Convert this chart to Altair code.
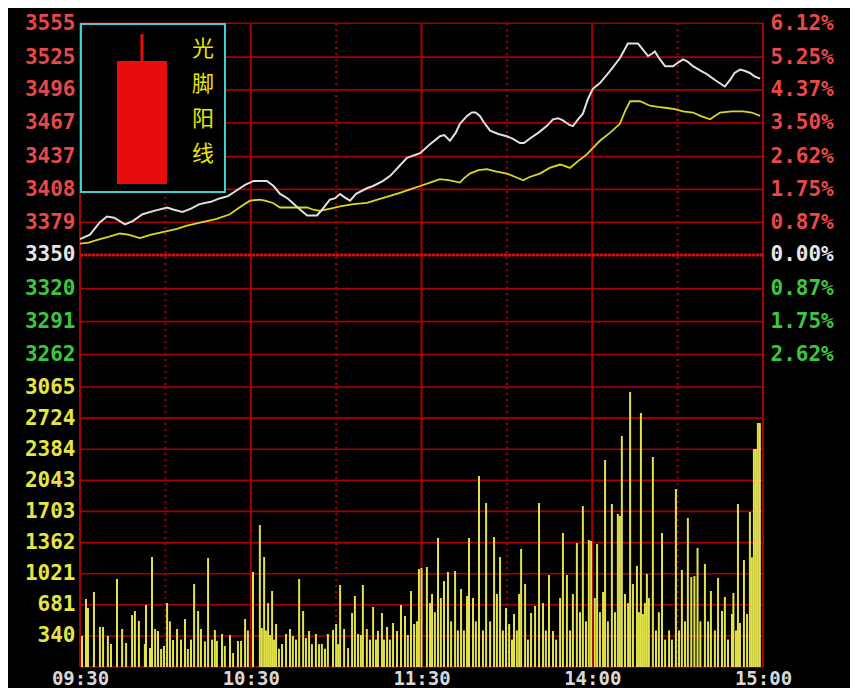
import altair as alt
import pandas as pd

# ---------------- axis ticks / labels ----------------
price_ticks = [3555, 3525, 3496, 3467, 3437, 3408, 3379, 3350, 3320, 3291, 3262]
pct_labels = ["6.12%", "5.25%", "4.37%", "3.50%", "2.62%", "1.75%", "0.87%",
              "0.00%", "0.87%", "1.75%", "2.62%"]
prev_close = 3350
price_domain = [3233.2, 3555.2]
vol_ticks = [340, 681, 1021, 1362, 1703, 2043, 2384, 2724, 3065]
vol_domain = [0, 3065]
time_ticks = [0, 60, 120, 180, 240]
time_labels = ["09:30", "10:30", "11:30", "14:00", "15:00"]
half_hours = [30, 90, 150, 210]
legend_text = "光\n脚\n阳\n线"

# ---------------- price lines (minutes since open, index level) ----------------
white_t = [0, 3.5, 7, 9.5, 12, 15.8, 18.5, 22, 26, 30.6, 33, 36, 39, 42, 46, 49, 52, 55, 58, 61,
           65.7, 68, 70.3, 73, 76, 79.8, 83.3, 85, 87.8, 89.5, 91.4, 93, 94.9, 97, 100.8, 103,
           106.5, 109, 112, 114.9, 119.5, 123, 126.5, 128, 130, 132, 133.5, 136, 137.7, 139,
           140.5, 142, 144.1, 147, 150, 152, 154.6, 156, 158.1, 161, 164, 166.2, 168, 169.7,
           172, 173.2, 175, 176.7, 178.5, 180.2, 182.7, 186, 189.7, 191, 192.5, 196.1, 198,
           199.6, 201, 202, 203.5, 205.6, 208.4, 210, 211.9, 213.5, 215.4, 218, 220.3, 223,
           226.6, 228.5, 230, 231.9, 233.5, 235.4, 237, 239]
white_p = [3364, 3368, 3379, 3384, 3383, 3377, 3380, 3386, 3389, 3392, 3390, 3388, 3391, 3395,
           3397, 3400, 3402, 3407, 3412, 3415.5, 3415.5, 3411, 3404, 3400, 3393, 3385, 3385, 3390,
           3399, 3400, 3404, 3401, 3398, 3404, 3409, 3411, 3415.5, 3420, 3428, 3436, 3440, 3448,
           3455, 3456, 3451, 3458, 3466, 3473, 3476, 3476, 3473, 3467, 3460, 3457, 3455, 3453,
           3449, 3449, 3453, 3458, 3464, 3470, 3471, 3469, 3465, 3464, 3470, 3475, 3488, 3497,
           3502, 3512, 3524, 3530, 3537, 3537, 3531, 3526, 3528, 3530, 3524, 3517, 3517, 3520,
           3523, 3521, 3517, 3513, 3510, 3505, 3499, 3505, 3511, 3514, 3513, 3511, 3508, 3506]

yellow_t = [0, 3, 7, 10, 14, 17, 21, 25, 30.6, 34, 37.6, 41, 44.6, 48, 52.7, 56, 59.7, 63.2, 65,
            67.8, 70.3, 75, 79.8, 82, 84.3, 88, 91.4, 96, 100.8, 106, 112.4, 116, 119.5, 123,
            126.5, 130, 133.5, 135, 137, 140, 143, 146, 150, 153, 155.7, 158, 161.6, 165, 168.7,
            170, 172.2, 175, 178.1, 180, 182.7, 186.2, 189.7, 191.5, 193.3, 196.8, 200.3, 203,
            206.3, 209, 211.9, 215.4, 218, 221.4, 224.9, 229, 233, 236, 239]
yellow_p = [3360, 3361, 3364, 3366, 3369, 3368, 3365, 3368, 3371, 3373, 3376, 3378, 3380, 3382,
            3386, 3392, 3398, 3399, 3398, 3396, 3392, 3392, 3392, 3390, 3389, 3391, 3393, 3395,
            3396, 3400, 3405, 3408, 3411, 3414, 3417, 3416, 3414, 3418, 3422, 3425, 3426, 3424,
            3422, 3419, 3416, 3419, 3422, 3427, 3430, 3429, 3427, 3433, 3439, 3444, 3451, 3458,
            3466, 3477, 3486, 3486, 3482, 3481, 3480, 3479, 3477, 3476, 3473, 3470, 3476, 3477,
            3477, 3476, 3473]

# ---------------- volume bars ----------------
vol_time = [
    0.7, 2.1, 2.8, 4.9, 7.0, 8.1, 9.8, 10.9, 13.0, 14.8,
    16.2, 18.3, 19.3, 20.7, 22.8, 23.2, 24.6, 25.3, 26.4, 27.4,
    28.5, 29.5, 30.6, 31.6, 32.7, 34.1, 35.5, 36.9, 37.9, 39.0,
    40.1, 41.5, 42.5, 43.9, 45.0, 46.4, 47.4, 48.1, 49.9, 50.9,
    52.7, 53.8, 55.5, 56.6, 58.0, 59.0, 60.8, 63.2, 63.9, 64.7,
    65.4, 66.1, 66.8, 67.5, 68.2, 68.9, 69.9, 71.0, 72.4, 73.8,
    74.8, 75.9, 77.0, 78.4, 79.4, 80.5, 81.5, 82.9, 84.0, 85.0,
    86.1, 87.1, 88.9, 90.0, 90.7, 91.4, 92.8, 94.2, 95.6, 96.6,
    97.7, 98.7, 99.4, 100.8, 101.9, 103.0, 104.0, 104.7, 106.1, 106.8,
    107.9, 108.9, 110.0, 111.4, 112.8, 114.2, 115.2, 116.3, 117.4, 118.4,
    119.1, 120.0, 121.9, 123.0, 123.7, 124.7, 125.8, 126.8, 127.9, 129.3,
    130.4, 131.8, 132.8, 133.9, 134.9, 136.0, 136.7, 138.1, 139.1, 140.2,
    141.6, 142.7, 144.1, 145.5, 146.5, 147.6, 148.6, 149.7, 150.8, 151.8,
    152.5, 153.5, 154.3, 155.0, 156.4, 157.4, 158.5, 159.9, 161.3, 162.7,
    163.7, 164.8, 166.2, 167.3, 168.7, 169.7, 171.1, 172.2, 173.2, 174.6,
    175.7, 176.7, 177.8, 178.8, 179.6, 180.9, 181.7, 182.7, 183.8, 184.5,
    185.5, 186.9, 188.0, 189.0, 189.7, 190.4, 191.5, 192.6, 193.3, 194.3,
    195.7, 196.4, 197.1, 197.8, 198.5, 199.2, 199.9, 201.3, 202.4, 203.4,
    204.5, 205.6, 207.0, 208.0, 209.4, 210.5, 211.5, 212.6, 213.6, 214.8,
    215.9, 217.0, 218.0, 219.6, 220.7, 221.7, 223.1, 224.2, 225.6, 226.6,
    227.7, 229.1, 229.6, 230.5, 231.2, 231.9, 233.3, 234.4, 235.4, 236.1,
    236.8, 237.5, 238.2, 238.9]
vol_value = [
    340, 744, 646, 821, 438, 438, 340, 252, 963, 416,
    263, 569, 613, 504, 252, 679, 208, 1204, 416, 394,
    197, 230, 700, 500, 296, 416, 300, 525, 197, 300,
    908, 613, 416, 280, 1193, 300, 405, 285, 361, 230,
    350, 153, 285, 285, 525, 400, 1040, 1554, 427, 1204,
    400, 700, 350, 832, 300, 471, 200, 252, 361, 416,
    340, 300, 963, 613, 317, 394, 250, 361, 250, 252,
    200, 361, 405, 471, 250, 898, 416, 208, 591, 777,
    361, 350, 898, 416, 300, 657, 300, 394, 591, 300,
    438, 300, 482, 394, 679, 558, 350, 832, 471, 500,
    1073, 1084, 1095, 700, 799, 600, 1412, 755, 941, 1040,
    500, 1051, 400, 854, 400, 777, 1412, 755, 500, 2091,
    400, 1795, 500, 1423, 800, 1204, 400, 646, 471, 300,
    580, 400, 799, 1292, 908, 300, 591, 668, 1795, 700,
    400, 1007, 394, 300, 755, 1467, 1007, 400, 799, 1357,
    600, 1762, 500, 1390, 1379, 755, 1346, 600, 821, 2266,
    500, 1784, 600, 1675, 1653, 2529, 799, 700, 3010, 908,
    1106, 600, 2780, 580, 700, 1018, 755, 2299, 400, 600,
    1467, 300, 400, 300, 1948, 400, 1062, 500, 1631, 985,
    996, 1303, 500, 1127, 500, 832, 400, 974, 613, 766,
    300, 580, 810, 400, 1784, 482, 1171, 580, 1697, 1200,
    2386, 2386, 2671, 2671]

# ---------------- styling ----------------
W, H_TOP, H_BOT = 683, 364, 280
GRID = "#a80000"
ZERO = "#c81414"
RED_T = "#e84848"
GREEN_T = "#3cc83c"
WHITE_T = "#e6e6e6"
YEL_T = "#e6e640"
FONT = "DejaVu Sans Mono"
FS = 21


def js_list(items):
    return "[" + ",".join(repr(i) if isinstance(i, str) else str(i) for i in items) + "]"


pct_expr = f"{js_list(pct_labels)}[indexof({js_list(price_ticks)}, datum.value)]"
time_expr = f"{js_list(time_labels)}[indexof({js_list(time_ticks)}, datum.value)]"

price_color = {
    "condition": [
        {"test": f"datum.value > {prev_close}", "value": RED_T},
        {"test": f"datum.value == {prev_close}", "value": WHITE_T},
    ],
    "value": GREEN_T,
}

xscale = alt.Scale(domain=[0, 240], nice=False, zero=False, padding=0)
pscale = alt.Scale(domain=price_domain, nice=False, zero=False)
vscale = alt.Scale(domain=vol_domain, nice=False)

common_axis = dict(title="", ticks=False, domain=False, grid=False, labelFont=FONT,
                   labelFontWeight="bold", labelOverlap=False)

left_price_axis = alt.Axis(values=price_ticks, orient="left", labelPadding=5, format="d",
                           labelFontSize=FS, labelColor=price_color, minExtent=72,
                           maxExtent=72, **common_axis)
right_price_axis = alt.Axis(values=price_ticks, orient="right", labelPadding=7,
                            labelExpr=pct_expr, labelColor=price_color, labelFontSize=FS,
                            minExtent=87, maxExtent=87, **common_axis)
vol_axis = alt.Axis(values=vol_ticks, orient="left", labelPadding=5, labelColor=YEL_T,
                    labelFontSize=FS, format="d", minExtent=72, maxExtent=72, **common_axis)
time_axis = alt.Axis(values=time_ticks, orient="bottom", labelPadding=2, labelExpr=time_expr,
                     labelColor="#d8d8d8", labelFontSize=19, labelFlush=False,
                     minExtent=16, maxExtent=16, **common_axis)

one = pd.DataFrame({"k": [0]})
price_df = pd.DataFrame({"p": price_ticks})
hour_df = pd.DataFrame({"t": time_ticks})
half_df = pd.DataFrame({"t": half_hours})
white_df = pd.DataFrame({"t": white_t, "p": white_p})
yellow_df = pd.DataFrame({"t": yellow_t, "p": yellow_p})
vol_df = pd.DataFrame({"t": vol_time, "v": vol_value})
volgrid_df = pd.DataFrame({"v": [0] + vol_ticks})

# ---------------- top (price) panel ----------------
p_hgrid = alt.Chart(price_df).mark_rule(color=GRID, strokeWidth=1.6).encode(
    x=alt.value(0), x2=alt.value(W), y=alt.Y("p:Q", scale=pscale, axis=left_price_axis))
p_vhour = alt.Chart(hour_df).mark_rule(color=GRID, strokeWidth=2).encode(
    x=alt.X("t:Q", scale=xscale, axis=None), y=alt.value(0), y2=alt.value(H_TOP))
p_vhalf = alt.Chart(half_df).mark_rule(color=GRID, strokeWidth=2, strokeDash=[2, 4]).encode(
    x=alt.X("t:Q", scale=xscale, axis=None), y=alt.value(0), y2=alt.value(H_TOP))
p_zero = alt.Chart(pd.DataFrame({"p": [prev_close]})).mark_rule(
    color=ZERO, strokeWidth=3, strokeDash=[3, 1]).encode(
    x=alt.value(0), x2=alt.value(W), y=alt.Y("p:Q", scale=pscale, axis=None))
p_yellow = alt.Chart(yellow_df).mark_line(color="#d8d820", strokeWidth=1.8).encode(
    x=alt.X("t:Q", scale=xscale, axis=None), y=alt.Y("p:Q", scale=pscale, axis=None))
p_white = alt.Chart(white_df).mark_line(color="#e0e0e0", strokeWidth=2).encode(
    x=alt.X("t:Q", scale=xscale, axis=None), y=alt.Y("p:Q", scale=pscale, axis=right_price_axis))

box = alt.Chart(one).mark_rect(fill="black", stroke="#40d0d0", strokeWidth=2).encode(
    x=alt.value(1), x2=alt.value(145), y=alt.value(1), y2=alt.value(169))
wick = alt.Chart(one).mark_rule(color="#e80c0c", strokeWidth=3).encode(
    x=alt.value(62), y=alt.value(11), y2=alt.value(40))
body = alt.Chart(one).mark_rect(fill="#e80c0c").encode(
    x=alt.value(37), x2=alt.value(87), y=alt.value(38), y2=alt.value(161))
label = alt.Chart(one).mark_text(
    lineBreak="\n", lineHeight=35, fontSize=22, font="Noto Sans CJK SC", color="#e6e600",
    align="center", baseline="top").encode(x=alt.value(123), y=alt.value(16),
                                           text=alt.value(legend_text))

top = alt.layer(p_hgrid, p_vhour, p_vhalf, p_zero, p_yellow, p_white, box, wick, body, label
                ).properties(width=W, height=H_TOP).resolve_axis(y="independent")

# ---------------- bottom (volume) panel ----------------
v_hgrid = alt.Chart(volgrid_df).mark_rule(color=GRID, strokeWidth=1.6).encode(
    x=alt.value(0), x2=alt.value(W), y=alt.Y("v:Q", scale=vscale, axis=vol_axis))
v_bars = alt.Chart(vol_df).mark_bar(color="#e2e24a", size=2, clip=True).encode(
    x=alt.X("t:Q", scale=xscale, axis=None), y=alt.Y("v:Q", scale=vscale, axis=None))
v_vhour = alt.Chart(hour_df).mark_rule(color=GRID, strokeWidth=2).encode(
    x=alt.X("t:Q", scale=xscale, axis=time_axis), y=alt.value(0), y2=alt.value(H_BOT))
v_vhalf = alt.Chart(half_df).mark_rule(color=GRID, strokeWidth=2, strokeDash=[2, 4]).encode(
    x=alt.X("t:Q", scale=xscale, axis=None), y=alt.value(0), y2=alt.value(H_BOT))

bottom = alt.layer(v_hgrid, v_vhalf, v_vhour, v_bars).properties(
    width=W, height=H_BOT).resolve_axis(x="independent", y="independent")

chart = alt.vconcat(top, bottom, spacing=0, bounds="flush").configure(
    background="black", padding={"left": 0, "top": 4, "right": 0, "bottom": 2}
).configure_view(strokeWidth=0)

chart.save("out.html", embed_options={"renderer": "svg", "actions": False})
